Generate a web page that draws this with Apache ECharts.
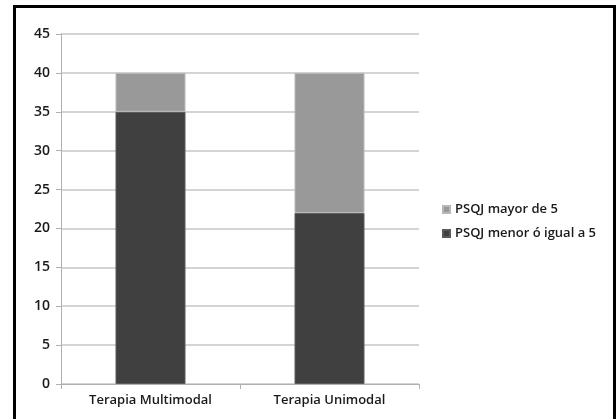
<!DOCTYPE html>
<html>
<head>
<meta charset="utf-8">
<script src="https://cdn.jsdelivr.net/npm/echarts@6/dist/echarts.min.js"></script>
<style>
  html, body { margin: 0; padding: 0; background: #fff; }
  #frame {
    position: absolute; left: 13px; top: 5px; width: 597px; height: 420px;
    border-left: 3px solid #000; border-top: 3px solid #000; border-right: 3px solid #000;
  }
  #chart { position: absolute; left: 0; top: 0; width: 616px; height: 419px; }
</style>
</head>
<body>
<div id="frame"></div>
<div id="chart"></div>
<script>
// Therapy groups and PSQI score counts
const categories = ['Terapia Multimodal', 'Terapia Unimodal'];
const menorIgual5 = [35, 22];
const mayor5 = [5, 18];
const yTicks = { min: 0, max: 45, interval: 5 };

const font = '"Open Sans", "Noto Sans", sans-serif';
const chart = echarts.init(document.getElementById('chart'));
chart.setOption({
  animation: false,
  grid: { left: 61, right: 197, top: 34, bottom: 35, containLabel: false },
  legend: {
    orient: 'vertical', left: 437, top: 198,
    itemWidth: 7, itemHeight: 7, itemGap: 11,
    icon: 'rect',
    data: ['PSQJ mayor de 5', 'PSQJ menor ó igual a 5'],
    textStyle: { fontFamily: font, fontSize: 13, fontWeight: 600, color: '#1a1a1a', padding: [0, 0, 0, 0] }
  },
  xAxis: {
    type: 'category', data: categories,
    axisLine: { lineStyle: { color: '#b0b0b0', width: 1 } },
    axisTick: { show: true, alignWithLabel: false, length: 5, lineStyle: { color: '#b0b0b0' } },
    axisLabel: { fontFamily: font, fontSize: 13, fontWeight: 600, color: '#1a1a1a', margin: 10 }
  },
  yAxis: {
    type: 'value', min: yTicks.min, max: yTicks.max, interval: yTicks.interval,
    axisLine: { show: true, lineStyle: { color: '#b0b0b0', width: 1 } },
    axisTick: { show: true, length: 5, lineStyle: { color: '#b0b0b0' } },
    axisLabel: { fontFamily: font, fontSize: 14, fontWeight: 600, color: '#1a1a1a', margin: 11 },
    splitLine: { lineStyle: { color: '#d4d4d4', width: 2 } }
  },
  series: [
    {
      name: 'PSQJ menor ó igual a 5', type: 'bar', stack: 'psqj', barWidth: 70,
      data: menorIgual5,
      itemStyle: { color: '#404040', borderColor: '#5a5a5a', borderWidth: 1 }
    },
    {
      name: 'PSQJ mayor de 5', type: 'bar', stack: 'psqj', barWidth: 70,
      data: mayor5,
      itemStyle: { color: '#999999', borderColor: '#b8b8b8', borderWidth: 1 }
    }
  ]
});
</script>
</body>
</html>
